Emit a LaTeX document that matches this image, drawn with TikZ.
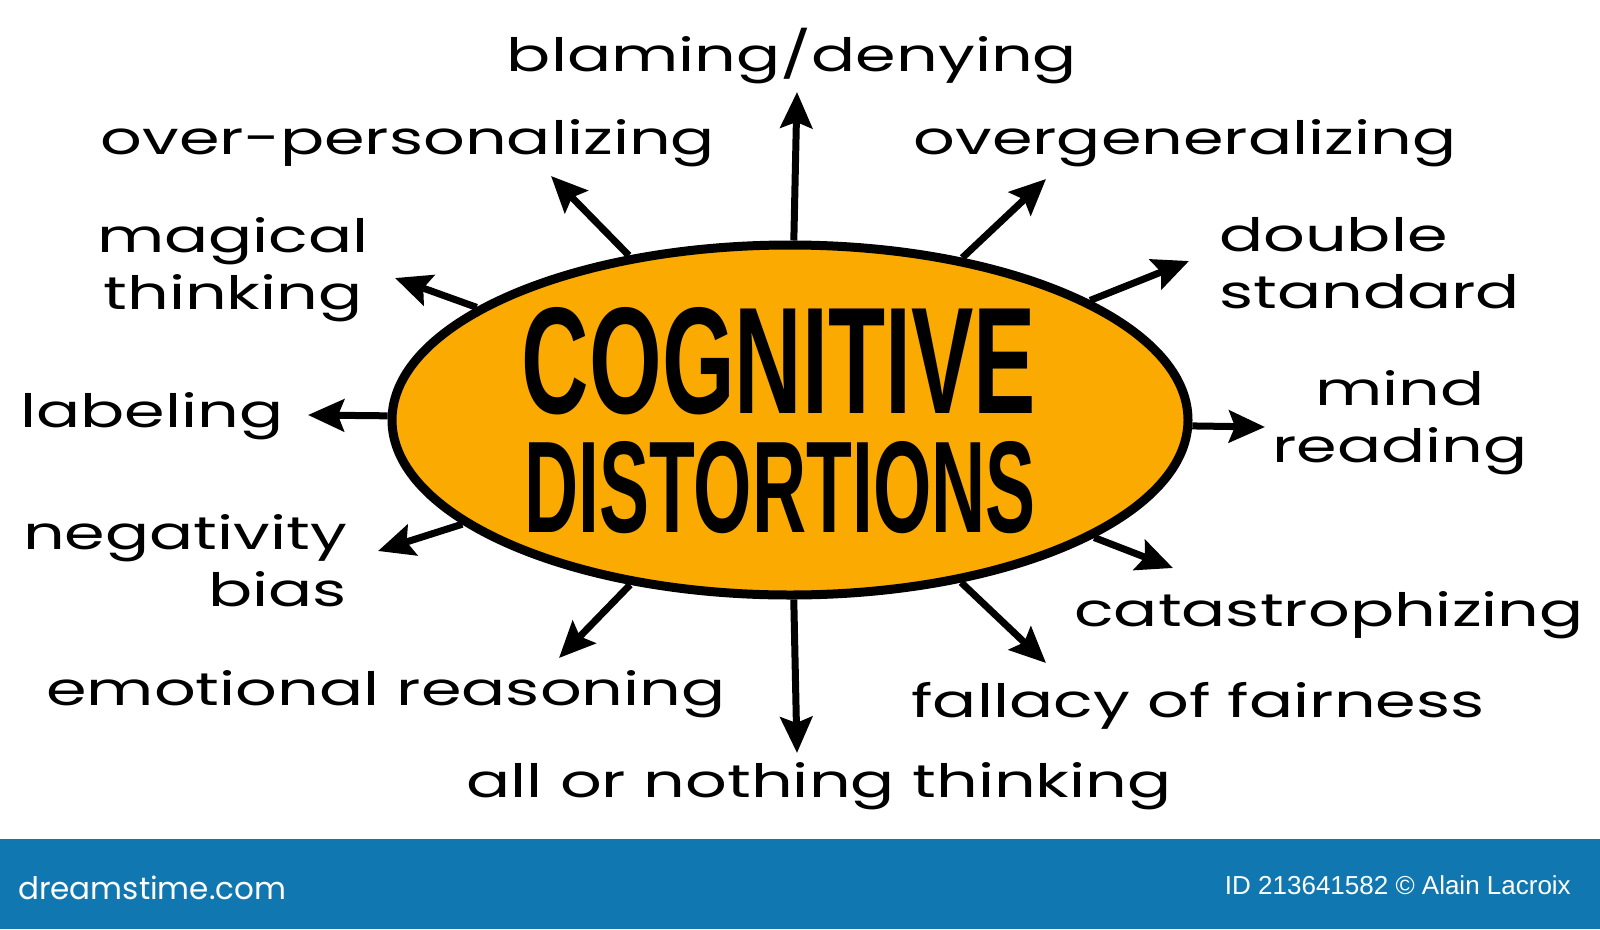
\documentclass[tikz,border=0pt]{standalone}
\usepackage{graphicx}
\usepackage{fontspec}
\usetikzlibrary{shapes.geometric, arrows.meta}
\newfontfamily\handfont{Poppins}[FakeStretch=1.42]
\newfontfamily\sitefont{Poppins}
\newfontfamily\titlefont{Liberation Sans}
\definecolor{coreorange}{RGB}{250,170,0}
\definecolor{stockblue}{RGB}{17,119,176}

\begin{document}
\begin{tikzpicture}[x=1pt, y=-1pt,
  core/.style={ellipse, draw, line width=9pt, fill=coreorange, minimum width=796pt, minimum height=350pt, inner sep=0pt},
  headline/.style={inner sep=0pt, font=\titlefont\bfseries},
  thought/.style={inner sep=0pt, align=center, font=\handfont\fontsize{46}{57}\selectfont},
  stock/.style={inner sep=0pt, text=white},
  arr/.style={line width=7pt, -{Stealth[length=36pt, width=32pt, inset=6pt]}}
]
  \useasboundingbox (0,0) rectangle (1600,929);

  % Centre
  \node[core] (core) at (790,420) {};
  \node[headline] (cog) at (779,361) {\resizebox{514pt}{106pt}{COGNITIVE}};
  \node[headline] (dis) at (780,488) {\resizebox{511pt}{91pt}{DISTORTIONS}};

  % Distortions
  \node[thought] (blame) at (792,56) {blaming/denying};
  \node[thought] (overpers) at (408,143) {over-personalizing};
  \node[thought] (overgen) at (1185,143) {overgeneralizing};
  \node[thought] (magic) at (233,270) {magical\\thinking};
  \node[thought, align=left, anchor=west] (double) at (1219,263) {double\\standard};
  \node[thought] (labeling) at (152,416) {labeling};
  \node[thought] (mind) at (1400,423) {mind\\reading};
  \node[thought, align=right, anchor=east] (negbias) at (347,561) {negativity\\bias};
  \node[thought] (catas) at (1329,615) {catastrophizing};
  \node[thought] (emoreason) at (386,694) {emotional reasoning};
  \node[thought] (fairness) at (1198,706) {fallacy of fairness};
  \node[thought] (allnothing) at (819,786) {all or nothing thinking};

  % Arrow tips
  \coordinate (tipblame) at (797,92);
  \coordinate (tipoverpers) at (551,176);
  \coordinate (tipovergen) at (1046,179);
  \coordinate (tipdouble) at (1189,261);
  \coordinate (tipmagic) at (395,278);
  \coordinate (tiplabeling) at (308,415);
  \coordinate (tipmind) at (1265,427);
  \coordinate (tipnegbias) at (378,551);
  \coordinate (tipcatas) at (1173,568);
  \coordinate (tipemoreason) at (559,658);
  \coordinate (tipfairness) at (1046,663);
  \coordinate (tipallnothing) at (797,753);

  % Arrows
  \foreach \t in {blame, overpers, overgen, double, magic, labeling, mind, negbias, catas, emoreason, fairness, allnothing}
    \draw[arr] (core) -- (tip\t);

  % Stock banner
  \fill[stockblue] (0,839) rectangle (1600,929);
  \node[stock, anchor=west, font=\sitefont\fontsize{31}{36}\selectfont] (site) at (18,888) {dreamstime.com};
  \node[stock, anchor=east, font=\titlefont\fontsize{26}{30}\selectfont] (credit) at (1571,885) {ID 213641582 © Alain Lacroix};
\end{tikzpicture}
\end{document}
